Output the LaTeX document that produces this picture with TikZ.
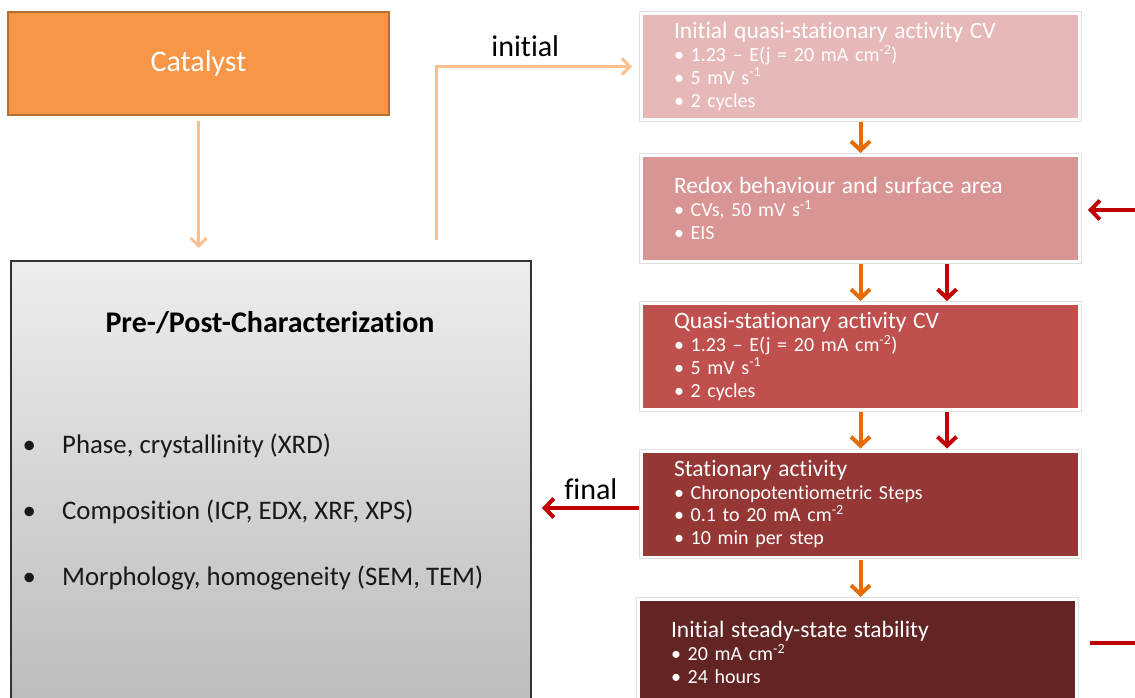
\documentclass[tikz,border=0pt]{standalone}
\usepackage{fontspec}
\setmainfont{Carlito}[Ligatures=NoCommon]
\usetikzlibrary{arrows.meta,positioning}

\definecolor{catfill}{HTML}{F79646}
\definecolor{catline}{HTML}{B66D31}
\definecolor{lightarr}{HTML}{F9BF8F}
\definecolor{orangearr}{HTML}{E46C0A}
\definecolor{redarr}{HTML}{C00000}
\definecolor{stepA}{HTML}{E6B9B8}
\definecolor{stepB}{HTML}{D99594}
\definecolor{stepC}{HTML}{C0504D}
\definecolor{stepD}{HTML}{953735}
\definecolor{stepE}{HTML}{632523}

\begin{document}
\begin{tikzpicture}[x=1pt,y=-1pt]
	\tikzstyle{stepbox}=[rectangle, minimum height=103pt, text width=373pt, inner xsep=31pt, inner ysep=0pt, align=left, text=white, font=\fontsize{20pt}{22.7pt}\selectfont, outer sep=4pt, preaction={draw=black!12, line width=7.5pt, rounded corners=1pt}, preaction={draw=white, line width=5.5pt}]
	\tikzstyle{lightarrow}=[draw=lightarr, line width=3pt, -{Straight Barb[length=8pt,width=16pt]}]
	\tikzstyle{orangearrow}=[draw=orangearr, line width=4pt, -{Straight Barb[length=9pt,width=19pt]}]
	\tikzstyle{redarrow}=[draw=redarr, line width=4pt, -{Straight Barb[length=9pt,width=19pt]}]
	\tikzstyle{flowlabel}=[font=\fontsize{30pt}{36pt}\selectfont, text=black]
	\tikzstyle{charitem}=[anchor=west, inner sep=0pt, font=\fontsize{26.8pt}{31pt}\selectfont, text=black!90]

	\useasboundingbox (0,0) rectangle (1135,698);
	\clip (0,0) rectangle (1135,698);

	%% left column
	\node [rectangle, minimum width=381pt, minimum height=103pt, fill=catfill, draw=catline, line width=2pt, text=white, font=\fontsize{30pt}{36pt}\selectfont]  (cat) at (198.5,63.5)  {Catalyst};
	\node [rectangle, minimum width=520pt, minimum height=480pt, top color=black!7, bottom color=black!28, draw=black!80, line width=2pt, anchor=north west]  (pp) at (10,260)  {};
	\node [font=\fontsize{30pt}{36pt}\selectfont\bfseries, text=black]  (pptitle) at (270,323)  {Pre-/Post-Characterization};
	\node [charitem]  (xrd) at (22.5,446)  {\makebox[39.5pt][l]{\textbullet}Phase, crystallinity (XRD)};
	\node [charitem]  (icp) at (22.5,512)  {\makebox[39.5pt][l]{\textbullet}Composition (ICP, EDX, XRF, XPS)};
	\node [charitem]  (sem) at (22.5,578)  {\makebox[39.5pt][l]{\textbullet}Morphology, homogeneity (SEM, TEM)};

	%% right column
	\node [stepbox, fill=stepA]  (s1) at (860.5,66.5)  {{\fontsize{23.5pt}{22.7pt}\selectfont Initial quasi-stationary activity CV}\\ \textbullet{} 1.23 – E(j = 20 mA cm\textsuperscript{-2})\\ \textbullet{} 5 mV s\textsuperscript{-1}\\ \textbullet{} 2 cycles};
	\node [stepbox, fill=stepB]  (s2) at (860.5,208.5)  {{\fontsize{23.5pt}{22.7pt}\selectfont Redox behaviour and surface area}\\ \textbullet{} CVs, 50 mV s\textsuperscript{-1}\\ \textbullet{} EIS};
	\node [stepbox, fill=stepC]  (s3) at (860.5,356.5)  {{\fontsize{23.5pt}{22.7pt}\selectfont Quasi-stationary activity CV}\\ \textbullet{} 1.23 – E(j = 20 mA cm\textsuperscript{-2})\\ \textbullet{} 5 mV s\textsuperscript{-1}\\ \textbullet{} 2 cycles};
	\node [stepbox, fill=stepD]  (s4) at (860.5,504)  {{\fontsize{23.5pt}{22.7pt}\selectfont Stationary activity}\\ \textbullet{} Chronopotentiometric Steps\\ \textbullet{} 0.1 to 20 mA cm\textsuperscript{-2}\\ \textbullet{} 10 min per step};
	\node [stepbox, fill=stepE]  (s5) at (857.5,652.5)  {{\fontsize{23.5pt}{22.7pt}\selectfont Initial steady-state stability}\\ \textbullet{} 20 mA cm\textsuperscript{-2}\\ \textbullet{} 24 hours};

	\coordinate (ini) at (436,240);
	\coordinate (rx) at (947,0);
	\coordinate (rin) at (1135,210);
	\coordinate (rout) at (1135,643);

	%% connectors
	\draw [lightarrow, shorten <=5pt, shorten >=12pt]  (cat.south) -- (cat.south |- pp.north);
	\draw [lightarrow, shorten >=7pt]  (ini) |- (s1.west) node [flowlabel, pos=0.72, above=4.5pt] (inilab) {initial};
	\draw [orangearrow]  (s1.south) -- (s2.north);
	\draw [orangearrow]  (s2.south) -- (s3.north);
	\draw [orangearrow]  (s3.south) -- (s4.north);
	\draw [orangearrow]  (s4.south) -- (s4.south |- s5.north);
	\draw [redarrow]  (s2.south -| rx) -- (s3.north -| rx);
	\draw [redarrow]  (s3.south -| rx) -- (s4.north -| rx);
	\draw [redarrow, shorten >=6pt]  (rin) -- (rin -| s2.east);
	\draw [redarrow, shorten >=10pt]  ([yshift=-4pt]s4.west) -- ([yshift=-4pt]s4.west -| pp.east) node [flowlabel, pos=0.45, above=3pt] (finlab) {final};
	\draw [draw=redarr, line width=4pt, shorten <=11pt]  (rout -| s5.east) -- (rout);

\end{tikzpicture}
\end{document}
